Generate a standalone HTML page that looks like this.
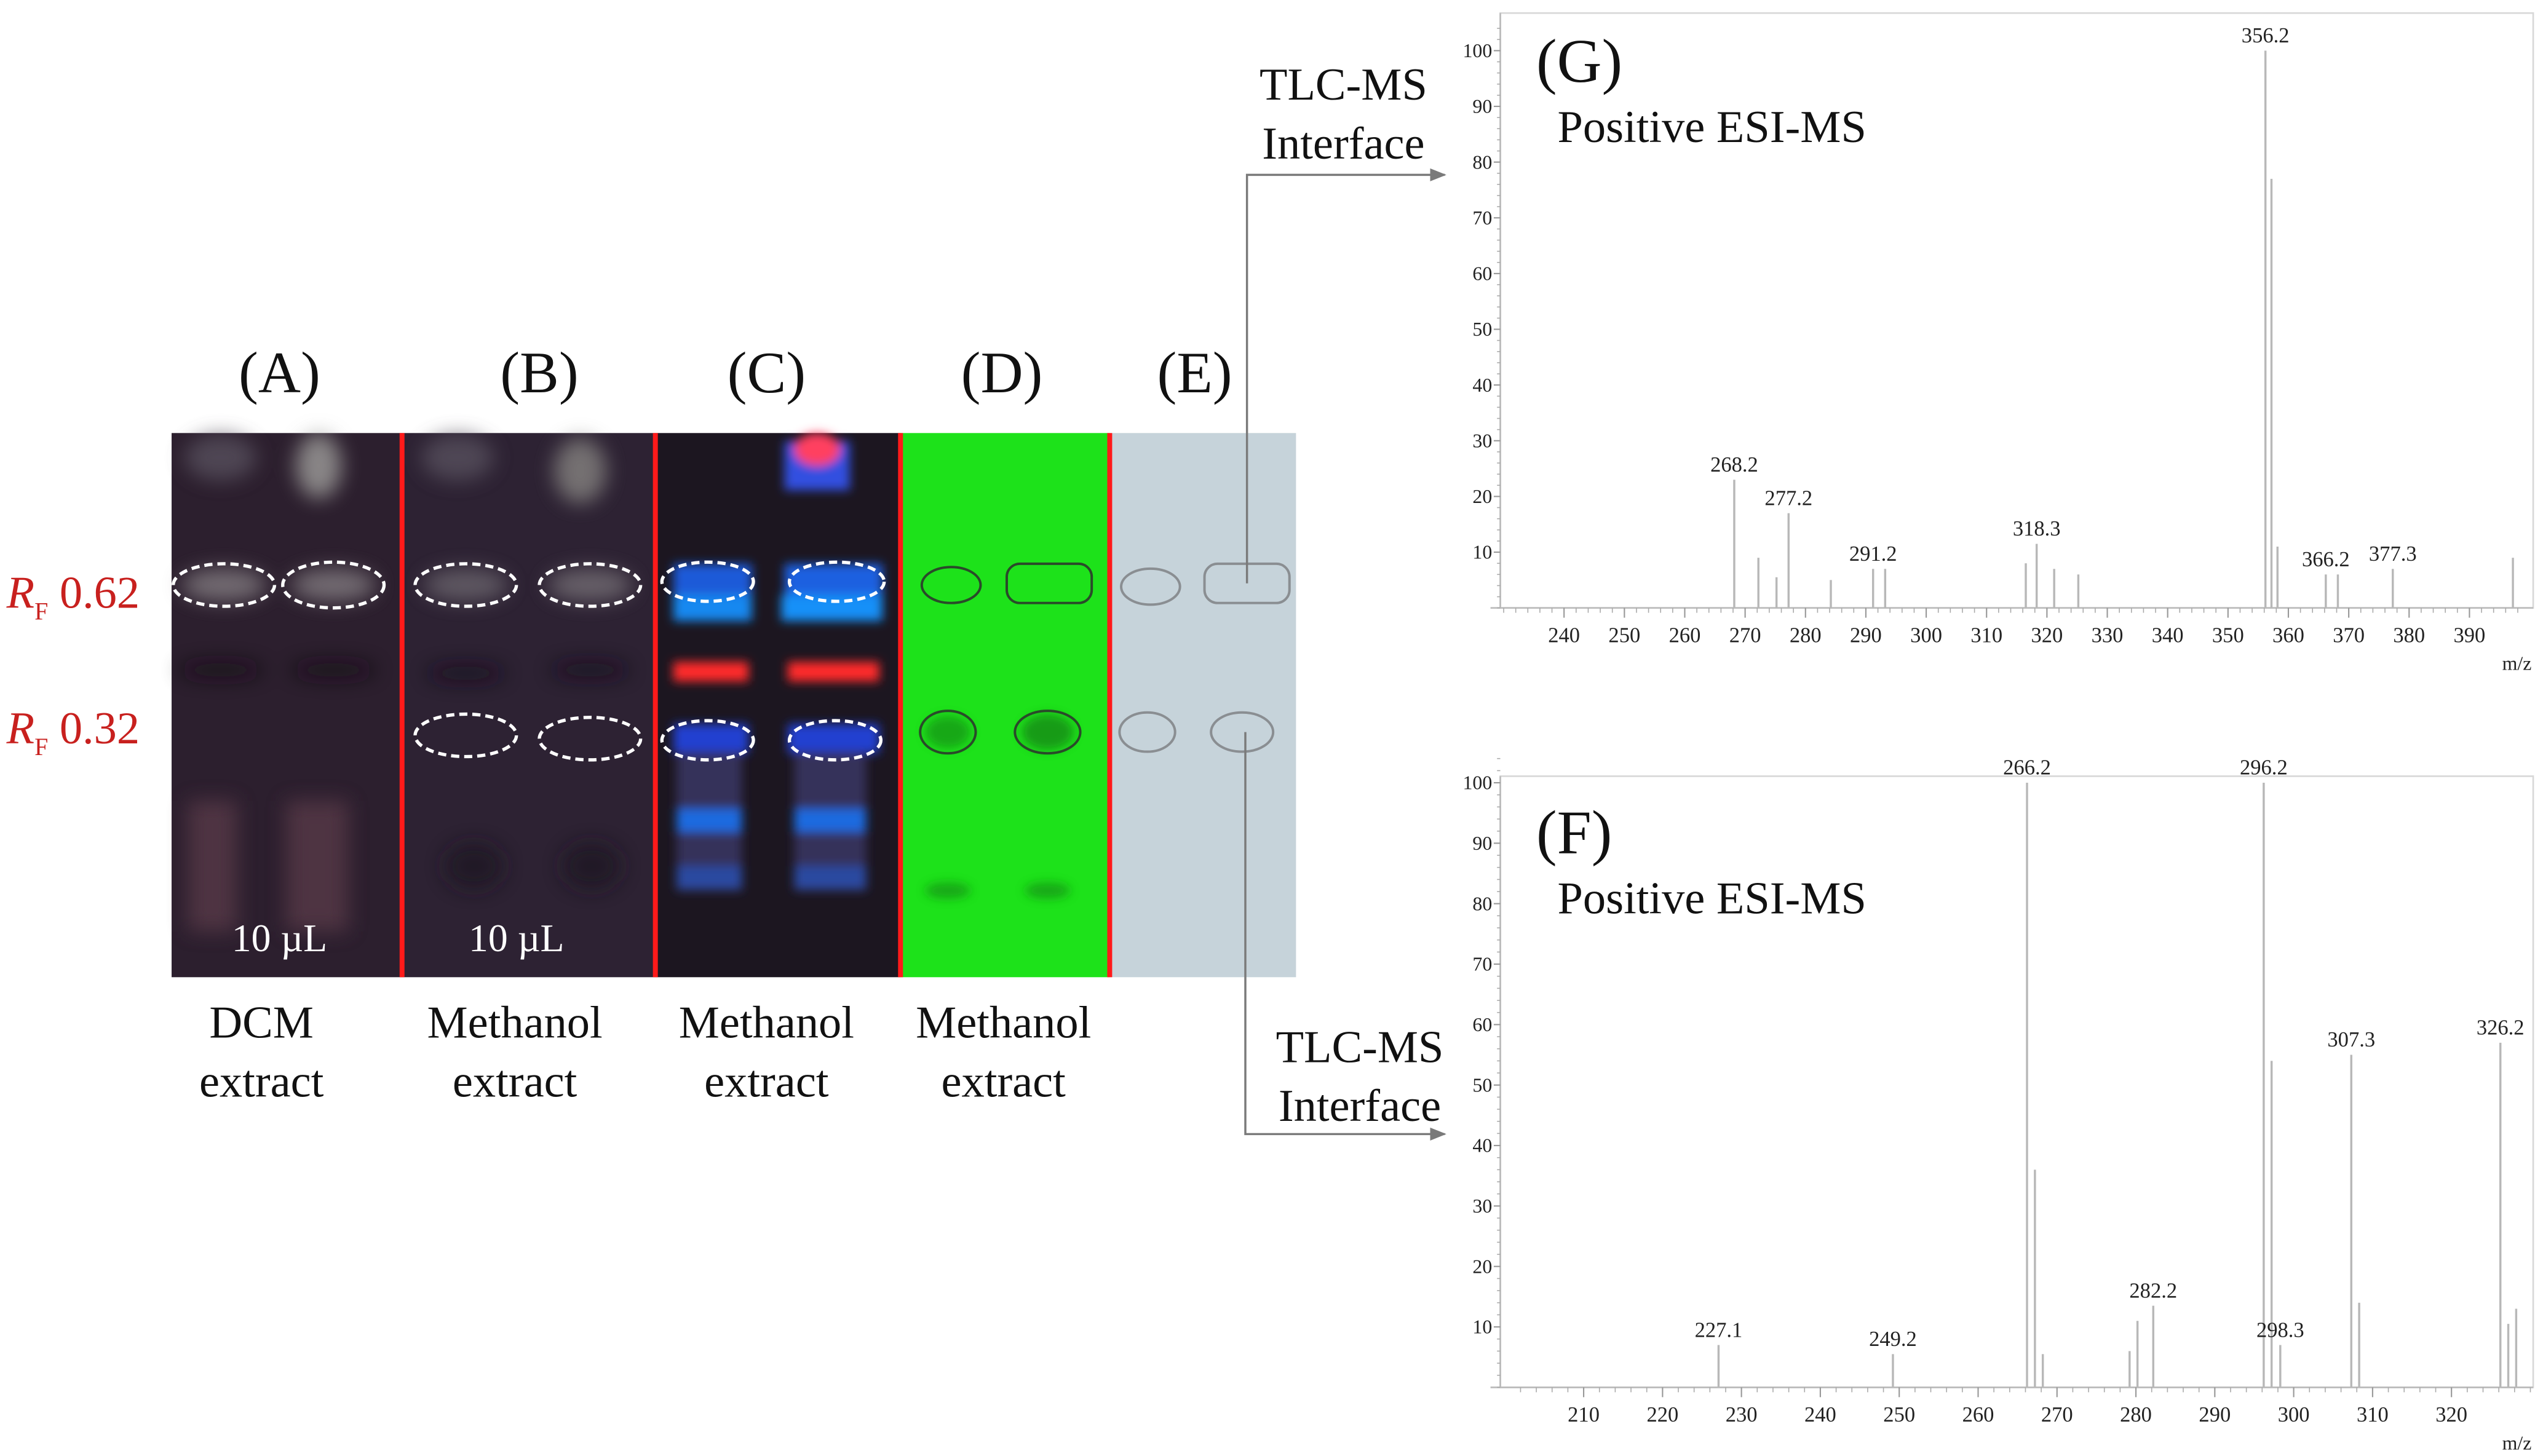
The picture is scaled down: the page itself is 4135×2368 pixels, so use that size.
<!DOCTYPE html>
<html><head><meta charset="utf-8">
<style>
html,body{margin:0;padding:0;background:#fff;}
svg{display:block;font-family:"Liberation Serif",serif;}
</style></head>
<body>
<svg id="fig" width="4135" height="2368" viewBox="0 0 1556 891" preserveAspectRatio="none">
<defs>
<filter id="blur3" x="-50%" y="-50%" width="200%" height="200%"><feGaussianBlur stdDeviation="3"/></filter>
<filter id="blur6" x="-50%" y="-50%" width="200%" height="200%"><feGaussianBlur stdDeviation="6"/></filter>
<marker id="arr" markerWidth="10" markerHeight="8" refX="9" refY="4" orient="auto" markerUnits="userSpaceOnUse"><path d="M0,0 L10,4 L0,8 z" fill="#7a7a7a"/></marker>
</defs>

<!-- panel letters -->
<g font-size="36" text-anchor="middle" fill="#111">
<text x="171" y="240">(A)</text>
<text x="330" y="240">(B)</text>
<text x="469" y="240">(C)</text>
<text x="613" y="240">(D)</text>
<text x="731" y="240">(E)</text>
</g>

<!-- TLC plates -->
<g>
<rect x="105" y="265" width="141" height="333" fill="#2c1f2e"/>
<rect x="246" y="265" width="155" height="333" fill="#2d2233"/>
<rect x="401" y="265" width="150" height="333" fill="#1c1620"/>
<rect x="551" y="265" width="128" height="333" fill="#1de21a"/>
<rect x="679" y="265" width="114" height="333" fill="#c6d3da"/>
<!-- A/B glows -->
<g filter="url(#blur6)" opacity="0.75">
<ellipse cx="135" cy="280" rx="22" ry="14" fill="#5a5260"/>
<ellipse cx="195" cy="285" rx="14" ry="20" fill="#a8a8a4"/>
<ellipse cx="280" cy="280" rx="22" ry="14" fill="#5a5260"/>
<ellipse cx="355" cy="288" rx="16" ry="20" fill="#8c8a86"/>
<ellipse cx="137" cy="358" rx="26" ry="10" fill="#8a8488"/>
<ellipse cx="204" cy="358" rx="26" ry="10" fill="#8a8488"/>
<ellipse cx="285" cy="358" rx="26" ry="10" fill="#706a72"/>
<ellipse cx="361" cy="358" rx="26" ry="10" fill="#7a747a"/>
<ellipse cx="135" cy="410" rx="26" ry="5" fill="#120e18"/>
<ellipse cx="204" cy="410" rx="26" ry="5" fill="#120e18"/>
<ellipse cx="285" cy="412" rx="24" ry="5" fill="#140f1a"/>
<ellipse cx="361" cy="410" rx="24" ry="5" fill="#140f1a"/>
<rect x="115" y="490" width="30" height="80" fill="#5a3a48"/>
<rect x="175" y="490" width="38" height="80" fill="#5a3a48"/>
<ellipse cx="290" cy="530" rx="18" ry="14" fill="#1c1520"/>
<ellipse cx="362" cy="530" rx="18" ry="14" fill="#1c1520"/>
</g>
<!-- C bands -->
<g filter="url(#blur3)">
<rect x="412" y="345" width="48" height="22" fill="#1a5ad8"/>
<rect x="480" y="345" width="60" height="22" fill="#1a60e0"/>
<rect x="412" y="364" width="48" height="16" fill="#1488f0"/>
<rect x="478" y="364" width="62" height="16" fill="#1490f8"/>
<rect x="480" y="270" width="40" height="30" fill="#3050e0"/>
<ellipse cx="500" cy="275" rx="14" ry="10" fill="#ff4060"/>
<rect x="412" y="405" width="46" height="12" fill="#ff2a2a"/>
<rect x="482" y="405" width="56" height="12" fill="#ff2a2a"/>
<rect x="412" y="443" width="46" height="18" fill="#2040d0"/>
<rect x="482" y="443" width="56" height="18" fill="#2040d0"/>
<rect x="414" y="460" width="40" height="85" fill="#34305a"/>
<rect x="486" y="460" width="44" height="85" fill="#34305a"/>
<rect x="414" y="495" width="40" height="14" fill="#1a6ae0"/>
<rect x="486" y="495" width="44" height="14" fill="#1a6ae0"/>
<rect x="414" y="530" width="40" height="14" fill="#2a4aa0"/>
<rect x="486" y="530" width="44" height="14" fill="#2a4aa0"/>
</g>
<!-- D spots -->
<g filter="url(#blur3)" opacity="0.8">
<ellipse cx="580" cy="448" rx="14" ry="10" fill="#149a18"/>
<ellipse cx="641" cy="448" rx="16" ry="11" fill="#128a16"/>
<ellipse cx="580" cy="545" rx="14" ry="5" fill="#149a18"/>
<ellipse cx="641" cy="545" rx="14" ry="5" fill="#149a18"/>
</g>
<g fill="none" stroke="#2a4a2a" stroke-width="1.5">
<ellipse cx="582" cy="358" rx="18" ry="11"/>
<rect x="616" y="345" width="52" height="24" rx="8"/>
<ellipse cx="580" cy="448" rx="17" ry="13"/>
<ellipse cx="641" cy="448" rx="20" ry="13"/>
</g>
<g fill="none" stroke="#8a8e92" stroke-width="1.5">
<ellipse cx="704" cy="359" rx="18" ry="11"/>
<rect x="737" y="345" width="52" height="24" rx="8"/>
<ellipse cx="702" cy="448" rx="17" ry="12"/>
<ellipse cx="760" cy="448" rx="19" ry="12"/>
</g>
<!-- red dividers -->
<g fill="#ff1a1a">
<rect x="244.5" y="265" width="3" height="333"/>
<rect x="399.5" y="265" width="3" height="333"/>
<rect x="549.5" y="265" width="3" height="333"/>
<rect x="677.5" y="265" width="3" height="333"/>
</g>
<!-- dashed ellipses -->
<g fill="none" stroke="#ffffff" stroke-width="2" stroke-dasharray="5,3">
<ellipse cx="137" cy="358" rx="31" ry="13"/>
<ellipse cx="204" cy="358" rx="31" ry="14"/>
<ellipse cx="285" cy="358" rx="31" ry="13"/>
<ellipse cx="361" cy="358" rx="31" ry="13"/>
<ellipse cx="433" cy="356" rx="28" ry="12"/>
<ellipse cx="512" cy="356" rx="29" ry="12"/>
<ellipse cx="285" cy="450" rx="31" ry="13"/>
<ellipse cx="361" cy="452" rx="31" ry="13"/>
<ellipse cx="433" cy="453" rx="28" ry="12"/>
<ellipse cx="511" cy="453" rx="28" ry="12"/>
</g>
<g font-size="24" fill="#ffffff" text-anchor="middle">
<text x="171" y="582">10 µL</text>
<text x="316" y="582">10 µL</text>
</g>
</g>

<!-- RF labels -->
<g font-size="28" fill="#c8201e">
<text x="4" y="372"><tspan font-style="italic">R</tspan><tspan font-size="15" dy="7">F</tspan><tspan dy="-7"> 0.62</tspan></text>
<text x="4" y="455"><tspan font-style="italic">R</tspan><tspan font-size="15" dy="7">F</tspan><tspan dy="-7"> 0.32</tspan></text>
</g>

<!-- bottom labels -->
<g font-size="28" fill="#111" text-anchor="middle">
<text x="160" y="635">DCM</text><text x="160" y="671">extract</text>
<text x="315" y="635">Methanol</text><text x="315" y="671">extract</text>
<text x="469" y="635">Methanol</text><text x="469" y="671">extract</text>
<text x="614" y="635">Methanol</text><text x="614" y="671">extract</text>
</g>

<!-- connectors -->
<g stroke="#7a7a7a" stroke-width="1.3" fill="none">
<path d="M763,357 L763,107 L884,107" marker-end="url(#arr)"/>
<path d="M762,448 L762,694 L884,694" marker-end="url(#arr)"/>
</g>
<g font-size="28" fill="#111" text-anchor="middle">
<text x="822" y="61">TLC-MS</text>
<text x="822" y="97">Interface</text>
<text x="832" y="650">TLC-MS</text>
<text x="832" y="686">Interface</text>
</g>

<g id="chartG"></g>
<g id="chartF"></g>
</svg>

<script>
// Spectrum G data
const gMz = [268.2, 272.2, 275.2, 277.2, 284.2, 291.2, 293.2, 316.5, 318.3, 321.2, 325.2, 356.2, 357.2, 358.2, 366.2, 368.2, 377.3, 397.2];
const gInt = [23, 9, 5.5, 17, 5, 7, 7, 8, 11.5, 7, 6, 100, 77, 11, 6, 6, 7, 9];
const gLabels = ["268.2", "277.2", "291.2", "318.3", "356.2", "366.2", "377.3"];
const gXTicks = [240, 250, 260, 270, 280, 290, 300, 310, 320, 330, 340, 350, 360, 370, 380, 390];
// Spectrum F data
const fMz = [227.1, 249.2, 266.2, 267.2, 268.2, 279.2, 280.2, 282.2, 296.2, 297.2, 298.3, 307.3, 308.3, 326.2, 327.2, 328.2];
const fInt = [7, 5.5, 100, 36, 5.5, 6, 11, 13.5, 100, 54, 7, 55, 14, 57, 10.5, 13];
const fLabels = ["227.1", "249.2", "266.2", "282.2", "296.2", "298.3", "307.3", "326.2"];
const fXTicks = [210, 220, 230, 240, 250, 260, 270, 280, 290, 300, 310, 320];
const yTicks = [10, 20, 30, 40, 50, 60, 70, 80, 90, 100];

const NS = "http://www.w3.org/2000/svg";
function el(parent, tag, attrs, txt) {
  const e = document.createElementNS(NS, tag);
  for (const k in attrs) e.setAttribute(k, attrs[k]);
  if (txt !== undefined) e.textContent = txt;
  parent.appendChild(e);
  return e;
}

function drawChart(g, cfg, mz, inten, labels, xticks, letter) {
  const xs = v => cfg.x0px + (v - cfg.x0) * (cfg.x1px - cfg.x0px) / (cfg.x1 - cfg.x0);
  const ys = v => cfg.y0px - v * (cfg.y0px - cfg.y100px) / 100;
  const frame = el(g, "rect", {x: cfg.left, y: cfg.top, width: cfg.right - cfg.left, height: cfg.y0px - cfg.top, fill: "none", stroke: "#d8d8d8", "stroke-width": 1});
  
  
  el(g, "line", {x1: cfg.left, y1: cfg.top, x2: cfg.left, y2: cfg.y0px, stroke: "#bbb", "stroke-width": 1});
  el(g, "line", {x1: cfg.left - 6, y1: cfg.y0px, x2: cfg.right, y2: cfg.y0px, stroke: "#bbb", "stroke-width": 1});
  // minor y ticks
  for (let v = 0; v <= 104; v += 2) {
    el(g, "line", {x1: cfg.left - 2, y1: ys(v), x2: cfg.left, y2: ys(v), stroke: "#aaa", "stroke-width": 0.6});
  }
  yTicks.forEach(v => {
    el(g, "line", {x1: cfg.left - 4, y1: ys(v), x2: cfg.left, y2: ys(v), stroke: "#999", "stroke-width": 0.8});
    const t = el(g, "text", {x: cfg.left - 5, y: ys(v) + 4, "font-size": 12, "text-anchor": "end", fill: "#222"}, String(v));
    
    
  });
  // minor x ticks
  for (let v = Math.ceil(cfg.xmin); v <= cfg.xmax; v += 2) {
    el(g, "line", {x1: xs(v), y1: cfg.y0px, x2: xs(v), y2: cfg.y0px + 3, stroke: "#aaa", "stroke-width": 0.6});
  }
  xticks.forEach(v => {
    el(g, "line", {x1: xs(v), y1: cfg.y0px, x2: xs(v), y2: cfg.y0px + 6, stroke: "#999", "stroke-width": 0.8});
    const t = el(g, "text", {x: xs(v), y: cfg.y0px + 21, "font-size": 13, "text-anchor": "middle", fill: "#222"}, String(v));
    
    
  });
  const mzl = el(g, "text", {x: cfg.right - 10, y: cfg.y0px + 38, "font-size": 12, "text-anchor": "middle", fill: "#222"}, "m/z");
  
  
  mz.forEach((m, i) => {
    const ln = el(g, "line", {x1: xs(m), y1: cfg.y0px, x2: xs(m), y2: ys(inten[i]), stroke: "#b8b8b8", "stroke-width": 1.3});
    
    
    const lab = m.toFixed(1);
    if (labels.indexOf(lab) >= 0) {
      const t = el(g, "text", {x: xs(m), y: ys(inten[i]) - 5, "font-size": 13, "text-anchor": "middle", fill: "#222"}, lab);
      
      
    }
  });
  const L = el(g, "text", {x: cfg.left + 22, y: cfg.letterY, "font-size": 38, fill: "#111"}, letter);
  
  
  const P = el(g, "text", {x: cfg.left + 35, y: cfg.letterY + 37, "font-size": 28, fill: "#111"}, "Positive ESI-MS");
  
  
}

drawChart(document.getElementById("chartG"),
  {left: 918, right: 1550, top: 8, y0px: 372, y100px: 31, x0: 240, x1: 390, x0px: 957, x1px: 1511, xmin: 230, xmax: 399, letterY: 50},
  gMz, gInt, gLabels, gXTicks, "(G)");
drawChart(document.getElementById("chartF"),
  {left: 918, right: 1550, top: 475, y0px: 849, y100px: 479, x0: 210, x1: 320, x0px: 969, x1px: 1500, xmin: 202, xmax: 330, letterY: 522},
  fMz, fInt, fLabels, fXTicks, "(F)");
</script>
</body></html>
